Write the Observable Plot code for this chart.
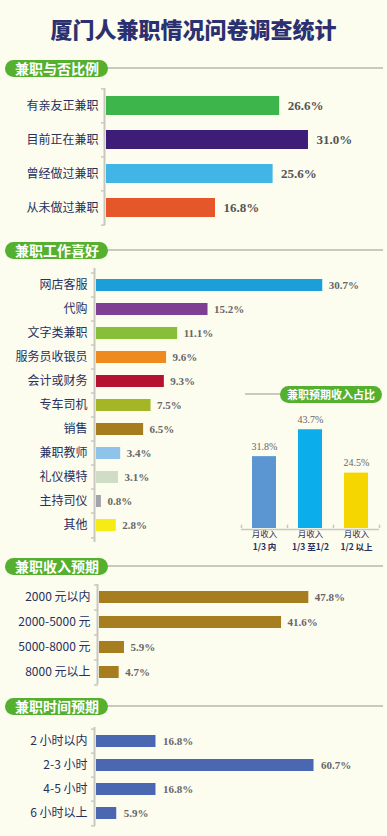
<!DOCTYPE html>
<html><head><meta charset="utf-8">
<script src="https://cdn.jsdelivr.net/npm/d3@7"></script>
<script src="https://cdn.jsdelivr.net/npm/@observablehq/plot@0.6"></script>
<style>
html,body{margin:0;padding:0;background:#fcfcef;}
#page{position:relative;width:387px;height:836px;background:#fcfcef;overflow:hidden;font-family:"Noto Sans CJK SC",sans-serif;}
.title{position:absolute;left:0;top:14px;width:387px;text-align:center;font-size:22px;font-weight:900;color:#2b3170;line-height:28px;}
.hline{position:absolute;height:2px;background:#c9c9be;}
.pill{position:absolute;height:17px;line-height:17px;border-radius:9px;background:#55b02f;color:#fff;font-weight:700;font-size:14px;box-sizing:border-box;padding-left:10px;white-space:nowrap;}
.chart{position:absolute;}
</style></head>
<body>
<div id="page">
  <div class="title">厦门人兼职情况问卷调查统计</div>
</div>
<script>
// ---- data ----
const statusCats = ["有亲友正兼职","目前正在兼职","曾经做过兼职","从未做过兼职"];
const statusVals = [26.6, 31.0, 25.6, 16.8];
const statusColors = ["#3db54a","#3e1d78","#41b6e6","#e5562a"];

const prefCats = ["网店客服","代购","文字类兼职","服务员收银员","会计或财务","专车司机","销售","兼职教师","礼仪模特","主持司仪","其他"];
const prefVals = [30.7, 15.2, 11.1, 9.6, 9.3, 7.5, 6.5, 3.4, 3.1, 0.8, 2.8];
const prefColors = ["#1a9fd9","#7f3f92","#87c038","#ef8a1e","#b4122e","#a4b626","#a57c1e","#8fc3ea","#cfdcc6","#a3a3ab","#f6eb15"];

const shareLine1 = ["月收入","月收入","月收入"];
const shareCats = ["1/3 内","1/3 至1/2","1/2 以上"];
const shareVals = [31.8, 43.7, 24.5];
const shareColors = ["#5b96d2","#0badeb","#f6d600"];

const incomeCats = ["2000 元以内","2000-5000 元","5000-8000 元","8000 元以上"];
const incomeVals = [47.8, 41.6, 5.9, 4.7];
const incomeColor = "#a67d1f";

const hoursCats = ["2 小时以内","2-3 小时","4-5 小时","6 小时以上"];
const hoursVals = [16.8, 60.7, 16.8, 5.9];
const hoursColor = "#4a67b1";

const sections = [
  {text:"兼职与否比例", top:60},
  {text:"兼职工作喜好", top:242},
  {text:"兼职收入预期", top:558},
  {text:"兼职时间预期", top:698}
];

// ---- layout helpers ----
const page = document.getElementById("page");
function header(text, top){
  const line = document.createElement("div");
  line.className = "hline";
  line.style.cssText = `left:100px;width:283px;top:${top+7}px;`;
  page.appendChild(line);
  const p = document.createElement("div");
  p.className = "pill";
  p.style.cssText = `left:5px;top:${top}px;width:103px;`;
  p.textContent = text;
  page.appendChild(p);
}
sections.forEach(s => header(s.text, s.top));

const AXIS = "#c8c8c0";
const LABEL = "#27305e";

function hbar(o){
  const data = o.cats.map((c,i)=>({c, v:o.vals[i], col: Array.isArray(o.colors)? o.colors[i] : o.colors}));
  const step = (o.height - o.mt - o.mb) / o.cats.length;
  const pxPer = (387 - o.ml - o.mr) / o.xmax;
  const tl = 4 / pxPer;
  const last = [o.cats[o.cats.length-1]];
  const svg = Plot.plot({
    width: 387, height: o.height,
    marginTop: o.mt, marginBottom: o.mb, marginLeft: o.ml, marginRight: o.mr,
    style: {background:"transparent", overflow:"visible", color: LABEL, fontSize: o.labelSize+"px", fontFamily:'"Noto Sans CJK SC", sans-serif'},
    x: {domain:[0, o.xmax], axis:null},
    y: {domain:o.cats, paddingInner:o.pad, paddingOuter:o.pad/2, label:null},
    marks: [
      Plot.axisY({tickSize:0, tickPadding:o.tickPad, label:null}),
      Plot.barX(data, {x:"v", y:"c", fill:"col", insetLeft:1}),
      Plot.ruleX([0], {stroke:AXIS, strokeWidth:2, dx:-1}),
      Plot.ruleY(o.cats, {y:d=>d, x1:-tl, x2:0, dy:-step/2, stroke:AXIS, strokeWidth:1.5}),
      Plot.ruleY(last, {y:d=>d, x1:-tl, x2:0, dy:step/2, stroke:AXIS, strokeWidth:1.5}),
      Plot.text(data, {x:"v", y:"c", text:d=>d.v.toFixed(1)+"%", textAnchor:"start", dx:o.dx,
        fill:o.valueColor, fontFamily:'"Liberation Serif", serif', fontWeight:"bold", fontSize:o.valueSize})
    ]
  });
  svg.classList.add("chart");
  svg.style.left = "0px";
  svg.style.top = o.top + "px";
  page.appendChild(svg);
}

hbar({cats:statusCats, vals:statusVals, colors:statusColors, top:80, height:155, mt:8, mb:10, ml:105, mr:7, xmax:42,
  pad:0.45, tickPad:7, labelSize:12, valueSize:13, valueColor:"#555", dx:8});
hbar({cats:prefCats, vals:prefVals, colors:prefColors, top:260, height:290, mt:8, mb:8, ml:95, mr:7, xmax:38.5,
  pad:0.52, tickPad:8, labelSize:12, valueSize:11, valueColor:"#666", dx:6});
hbar({cats:incomeCats, vals:incomeVals, colors:incomeColor, top:576, height:116, mt:8, mb:8, ml:98, mr:3, xmax:65,
  pad:0.52, tickPad:8, labelSize:12, valueSize:11, valueColor:"#666", dx:6});
hbar({cats:hoursCats, vals:hoursVals, colors:hoursColor, top:719, height:113, mt:8, mb:6, ml:95, mr:4, xmax:80,
  pad:0.52, tickPad:8, labelSize:12, valueSize:11, valueColor:"#666", dx:7});

// ---- inset: 兼职预期收入占比 ----
(function(){
  const line = document.createElement("div");
  line.className = "hline";
  line.style.cssText = "left:245px;width:40px;top:393px;";
  page.appendChild(line);
  const p = document.createElement("div");
  p.className = "pill";
  p.style.cssText = "left:280px;top:386px;width:102px;font-size:11px;padding-left:7px;letter-spacing:0;";
  p.textContent = "兼职预期收入占比";
  page.appendChild(p);

  const data = shareCats.map((c,i)=>({c, l1:shareLine1[i], v:shareVals[i], col:shareColors[i]}));
  const W = 157, H = 160, ml = 11, mr = 8, mt = 15, mb = 32;
  const step = (W - ml - mr) / shareCats.length;
  const last = [shareCats[shareCats.length-1]];
  const svg = Plot.plot({
    width: W, height: H, marginTop: mt, marginBottom: mb, marginLeft: ml, marginRight: mr,
    style: {background:"transparent", overflow:"visible", color: LABEL, fontFamily:'"Noto Sans CJK SC", sans-serif'},
    x: {domain: shareCats, paddingInner:0.48, paddingOuter:0.24, axis:null},
    y: {domain: [0, 50], axis:null},
    marks: [
      Plot.barY(data, {x:"c", y:"v", fill:"col"}),
      Plot.ruleY([0], {stroke:AXIS, strokeWidth:1.5, dy:1}),
      Plot.ruleX(shareCats, {x:d=>d, y1:0, y2:1.5, dx:-step/2, stroke:AXIS, strokeWidth:1.5}),
      Plot.ruleX(last, {x:d=>d, y1:0, y2:1.5, dx:step/2, stroke:AXIS, strokeWidth:1.5}),
      Plot.text(data, {x:"c", y:"v", text:d=>d.v.toFixed(1)+"%", dy:-10, fill:"#666",
        fontFamily:'"Liberation Serif", serif', fontSize:10}),
      Plot.text(data, {x:"c", text:"l1", frameAnchor:"bottom", dy:8, fontSize:8.5, fill:LABEL}),
      Plot.text(data, {x:"c", text:"c", frameAnchor:"bottom", dy:21, fontSize:8.5, fontWeight:"bold", fill:LABEL})
    ]
  });
  svg.classList.add("chart");
  svg.style.left = "230px";
  svg.style.top = "400px";
  page.appendChild(svg);
})();
</script>
</body></html>
